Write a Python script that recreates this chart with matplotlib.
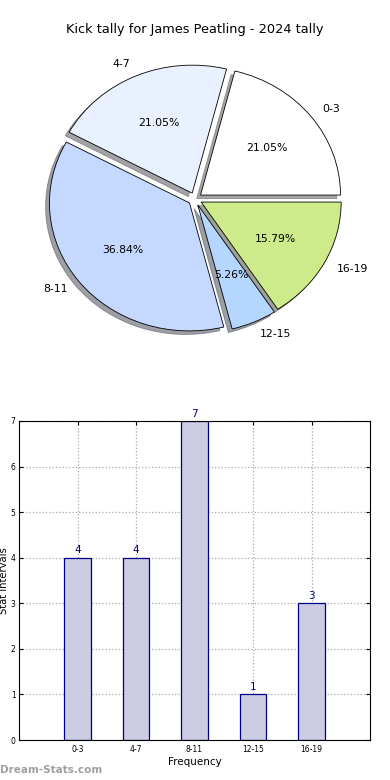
import matplotlib
matplotlib.use("Agg")
import matplotlib.pyplot as plt

categories = ["0-3", "4-7", "8-11", "12-15", "16-19"]
values = [4, 4, 7, 1, 3]
pie_colors = ["#ffffff", "#eaf1fe", "#c5d8ff", "#b5d6ff", "#cdeb8b"]
title = "Kick tally for James Peatling - 2024 tally"

W, H = 390, 780
fig = plt.figure(figsize=(W / 100, H / 100), dpi=100)

# Pie (slightly elliptical, as in the reference)
cx, cy, rx, ry = 195, 199, 140, 128
hx, hy = 1.25 * rx, 1.25 * ry
ax1 = fig.add_axes([(cx - hx) / W, (H - cy - hy) / H, 2 * hx / W, 2 * hy / H])
wedges, texts, autotexts = ax1.pie(
    values, labels=categories, colors=pie_colors, explode=[0.05] * len(values),
    autopct="%.2f%%", startangle=0, counterclock=True, shadow=True,
    labeldistance=1.1, pctdistance=0.6,
    wedgeprops=dict(edgecolor="black", linewidth=0.6),
    textprops=dict(fontsize=7.8),
)
ax1.set_aspect("auto")
ax1.set_xlim(-1.25, 1.25)
ax1.set_ylim(-1.25, 1.25)
fig.text(0.5, 1 - 30 / H, title, ha="center", va="center", fontsize=9.3)

# Bars
ax2 = fig.add_axes([19 / W, 40 / H, 351 / W, 319 / H])
x = list(range(1, len(categories) + 1))
ax2.bar(x, values, width=0.45, color="#ccccE2", edgecolor="#00008b", linewidth=0.9, zorder=2)
for xi, v in zip(x, values):
    ax2.text(xi, v + 0.05, str(v), ha="center", va="bottom", color="#00008b", fontsize=7.5)
ax2.set_xlim(0, 6)
ax2.set_ylim(0, 7)
ax2.set_xticks(x)
ax2.set_xticklabels(categories)
ax2.set_yticks(range(0, 8))
ax2.tick_params(axis="both", labelsize=5.5, direction="in", top=True, right=True, length=3)
ax2.tick_params(axis="y", pad=2.5)
ax2.grid(True, linestyle=":", color="#aaaaaa", linewidth=0.9, zorder=0)
ax2.set_axisbelow(True)
ax2.set_xlabel("Frequency", fontsize=7.5, labelpad=2)
ax2.set_ylabel("Stat Intervals", fontsize=7.2)
ax2.yaxis.set_label_coords(-10 / 351, 0.5)
fig.text(0.0, 1 - 770 / H, "Dream-Stats.com", ha="left", va="center", color="#a0a0a0",
         fontsize=7.5, fontweight="bold")

fig.savefig("out.png", dpi=100)
